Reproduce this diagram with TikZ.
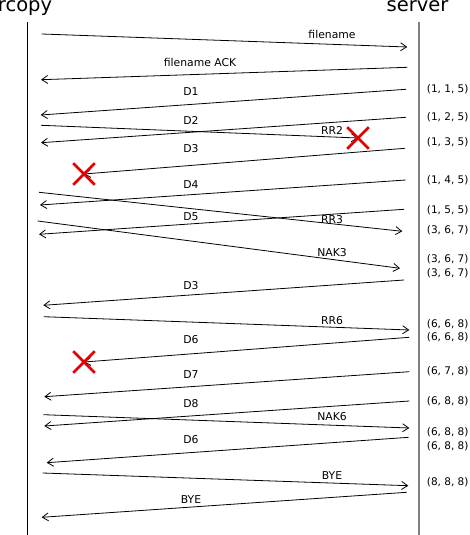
\documentclass[tikz,border=0pt]{standalone}
\usepackage{fontspec}
\setmainfont{DejaVu Sans}
\usetikzlibrary{arrows.meta, shapes.misc}

\begin{document}
\begin{tikzpicture}[x=1pt, y=-1pt]
      \tikzstyle{actor} = [font=\fontsize{19.5}{23}\selectfont, anchor=base, inner sep=0pt]
      \tikzstyle{lifeline} = [line width=1pt, draw=black]
      \tikzstyle{msg} = [line width=0.8pt, ->, >={Straight Barb[length=6pt, width=8pt]}]
      \tikzstyle{msglabel} = [font=\fontsize{10.8}{13}\selectfont, inner sep=0pt]
      \tikzstyle{window} = [font=\fontsize{10.5}{13}\selectfont, anchor=west, inner sep=0pt]
      \tikzstyle{lost} = [cross out, draw=red!90!black, line width=2.6pt, minimum size=19pt, inner sep=0pt]

      \useasboundingbox (0,0) rectangle (469,535);

      \node (rcopy) [actor] at (25,11.7) {rcopy};
      \node (server) [actor] at (417.5,11.7) {server};

      \coordinate (rcopytop) at (27,22);
      \coordinate (rcopyend) at (27,535);
      \coordinate (servertop) at (419,22);
      \coordinate (serverend) at (419,535);

      \draw [lifeline] (rcopytop) -- (rcopyend);
      \draw [lifeline, draw=black!50, line width=1.6pt] (servertop) -- (serverend);

      % rcopy side
      \coordinate (c1) at (41.7,34);
      \coordinate (c2) at (41,79.7);
      \coordinate (c3) at (40.7,115);
      \coordinate (c4) at (41,142.7);
      \coordinate (c5) at (41,125.3);
      \coordinate (c7) at (40,205);
      \coordinate (c8) at (39,192.3);
      \coordinate (c9) at (39,234.3);
      \coordinate (c10) at (37.7,221);
      \coordinate (c11) at (43.3,305.3);
      \coordinate (c12) at (43.7,316.7);
      \coordinate (c14) at (44.3,396.7);
      \coordinate (c15) at (44.3,426);
      \coordinate (c16) at (43.3,414.7);
      \coordinate (c17) at (46.7,462.7);
      \coordinate (c18) at (42.7,473);
      \coordinate (c19) at (41.7,517.3);

      % server side
      \coordinate (s1) at (407.3,47);
      \coordinate (s2) at (407.3,67.3);
      \coordinate (s3) at (406,89.3);
      \coordinate (s4) at (406,117.3);
      \coordinate (s6) at (405,148.3);
      \coordinate (s7) at (405.7,180);
      \coordinate (s8) at (402.3,231.3);
      \coordinate (s9) at (404,209.3);
      \coordinate (s10) at (400,268.3);
      \coordinate (s11) at (404,280);
      \coordinate (s12) at (409.3,330);
      \coordinate (s13) at (409.3,337.3);
      \coordinate (s14) at (409.3,371.7);
      \coordinate (s15) at (409.3,401);
      \coordinate (s16) at (409.3,428);
      \coordinate (s17) at (408.7,437.3);
      \coordinate (s18) at (408.3,485.7);
      \coordinate (s19) at (406.7,492.3);

      % losses
      \coordinate (lossrr) at (358,138);
      \coordinate (lossd3) at (84,174);
      \coordinate (lossd6) at (84,362);

      \draw [msg] (c1) -- (s1);
      \draw [msg] (s2) -- (c2);
      \draw [msg] (s3) -- (c3);
      \draw [msg] (s4) -- (c4);
      \draw [msg] (c5) -- (lossrr);
      \draw [msg] (s6) -- (lossd3);
      \draw [msg] (s7) -- (c7);
      \draw [msg] (c8) -- (s8);
      \draw [msg] (s9) -- (c9);
      \draw [msg] (c10) -- (s10);
      \draw [msg] (s11) -- (c11);
      \draw [msg] (c12) -- (s12);
      \draw [msg] (s13) -- (lossd6);
      \draw [msg] (s14) -- (c14);
      \draw [msg] (s15) -- (c15);
      \draw [msg] (c16) -- (s16);
      \draw [msg] (s17) -- (c17);
      \draw [msg] (c18) -- (s18);
      \draw [msg] (s19) -- (c19);

      \node (xrr) [lost] at (lossrr) {};
      \node (xd3) [lost] at (lossd3) {};
      \node (xd6) [lost] at (lossd6) {};

      \node (lfilename) [msglabel] at (332,34.3) {filename};
      \node (lfnack) [msglabel] at (200,62.7) {filename ACK};
      \node (ld1) [msglabel] at (191,91.7) {D1};
      \node (ld2) [msglabel] at (191,120.7) {D2};
      \node (lrr2) [msglabel] at (332,130) {RR2};
      \node (ld3) [msglabel] at (191,148.3) {D3};
      \node (ld4) [msglabel] at (191,184.3) {D4};
      \node (ld5) [msglabel] at (191,216.7) {D5};
      \node (lrr3) [msglabel] at (332,220) {RR3};
      \node (lnak3) [msglabel] at (332,252.7) {NAK3};
      \node (ld3again) [msglabel] at (191,285.3) {D3};
      \node (lrr6) [msglabel] at (332,320.7) {RR6};
      \node (ld6) [msglabel] at (191,340) {D6};
      \node (ld7) [msglabel] at (191,375) {D7};
      \node (ld8) [msglabel] at (191,404) {D8};
      \node (lnak6) [msglabel] at (332,416.3) {NAK6};
      \node (ld6again) [msglabel] at (191,440) {D6};
      \node (lbye) [msglabel] at (332,475.7) {BYE};
      \node (lbyeback) [msglabel] at (191,499.3) {BYE};

      \node (w1) [window] at (426.7,89.3) {(1, 1, 5)};
      \node (w2) [window] at (426.7,117.7) {(1, 2, 5)};
      \node (w3) [window] at (426.7,142.7) {(1, 3, 5)};
      \node (w4) [window] at (426.7,180.7) {(1, 4, 5)};
      \node (w5) [window] at (426.7,210.7) {(1, 5, 5)};
      \node (w6) [window] at (426.7,230.7) {(3, 6, 7)};
      \node (w7) [window] at (426.7,259.3) {(3, 6, 7)};
      \node (w8) [window] at (426.7,273.3) {(3, 6, 7)};
      \node (w9) [window] at (426.7,324.7) {(6, 6, 8)};
      \node (w10) [window] at (426.7,337.7) {(6, 6, 8)};
      \node (w11) [window] at (426.7,371.7) {(6, 7, 8)};
      \node (w12) [window] at (426.7,401.7) {(6, 8, 8)};
      \node (w13) [window] at (426.7,432.7) {(6, 8, 8)};
      \node (w14) [window] at (426.7,446.7) {(6, 8, 8)};
      \node (w15) [window] at (426.7,482.7) {(8, 8, 8)};

    \end{tikzpicture}
\end{document}
